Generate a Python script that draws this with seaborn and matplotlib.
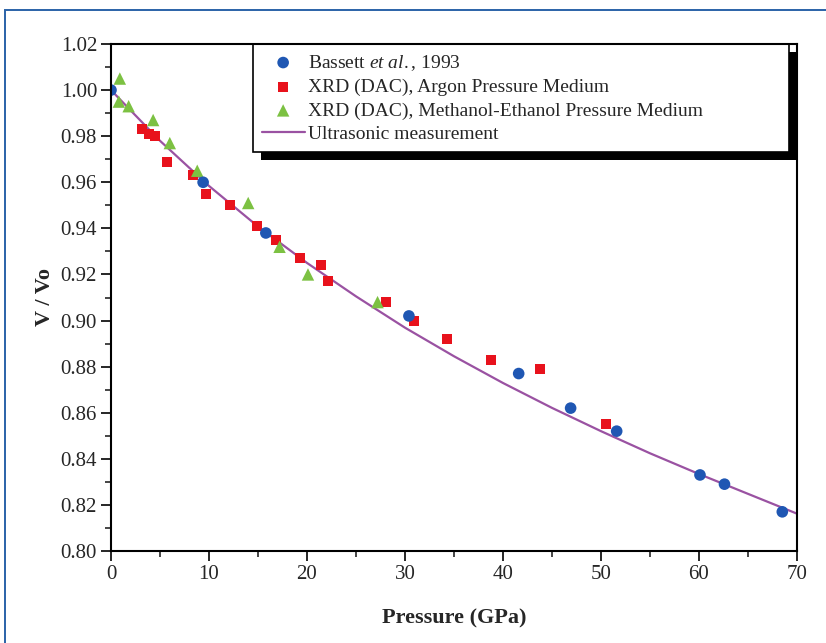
import matplotlib
matplotlib.use("Agg")
import numpy as np
import pandas as pd
import seaborn as sns
import matplotlib.pyplot as plt
from matplotlib.patches import Rectangle
from matplotlib.transforms import IdentityTransform
from matplotlib.ticker import MultipleLocator, FormatStrFormatter

# ---------------- data ----------------
bassett_p = [0.0, 9.4, 15.8, 30.4, 41.6, 46.9, 51.6, 60.1, 62.6, 68.5]
bassett_v = [1.000, 0.960, 0.938, 0.902, 0.877, 0.862, 0.852, 0.833, 0.829, 0.817]

argon_p = [3.2, 3.9, 4.5, 5.7, 8.4, 9.7, 12.1, 14.9, 16.8, 19.3, 21.4, 22.1,
           28.1, 30.9, 34.3, 38.8, 43.8, 50.5]
argon_v = [0.983, 0.981, 0.980, 0.969, 0.963, 0.955, 0.950, 0.941, 0.935, 0.927,
           0.924, 0.917, 0.908, 0.900, 0.892, 0.883, 0.879, 0.855]

meoh_p = [0.9, 0.8, 1.8, 4.3, 6.0, 8.8, 14.0, 17.2, 20.1, 27.2]
meoh_v = [1.005, 0.995, 0.993, 0.987, 0.977, 0.965, 0.951, 0.932, 0.920, 0.908]

ultra_p = [0, 5, 10, 15, 20, 25, 30, 35, 40, 45, 50, 55, 60, 65, 70]
ultra_v = [1.000, 0.978, 0.9584, 0.9408, 0.925, 0.9105, 0.8969, 0.8845, 0.8729,
           0.8621, 0.852, 0.8424, 0.8334, 0.8248, 0.8162]

labels = ["Bassett $\\mathit{et\\ al.}\\mathrm{,}$ 1993",
          "XRD (DAC), Argon Pressure Medium",
          "XRD (DAC), Methanol-Ethanol Pressure Medium",
          "Ultrasonic measurement"]
x_ticks = [0, 10, 20, 30, 40, 50, 60, 70]
y_ticks = [0.80, 0.82, 0.84, 0.86, 0.88, 0.90, 0.92, 0.94, 0.96, 0.98, 1.00, 1.02]

# ---------------- style ----------------
sns.set_style("ticks")
plt.rcParams["font.family"] = ["Liberation Serif", "DejaVu Serif"]
plt.rcParams["mathtext.fontset"] = "custom"
plt.rcParams["mathtext.rm"] = "Liberation Serif"
plt.rcParams["mathtext.it"] = "Liberation Serif:italic"

W, H = 826, 643
fig = plt.figure(figsize=(W / 100, H / 100), dpi=100)
fig.patch.set_facecolor("white")
# blue outer frame
fig.patches.append(Rectangle((5 / W, -0.05), 1.2, 1 - 10 / H + 0.05,
                             transform=fig.transFigure, fill=False,
                             edgecolor="#2a62a8", lw=1.4))

ax = fig.add_axes([111 / W, 1 - 551 / H, (797 - 111) / W, (551 - 44) / H])

df_b = pd.DataFrame({"p": bassett_p, "v": bassett_v})
df_a = pd.DataFrame({"p": argon_p, "v": argon_v})
df_m = pd.DataFrame({"p": meoh_p, "v": meoh_v})
df_u = pd.DataFrame({"p": ultra_p, "v": ultra_v})

sns.lineplot(data=df_u, x="p", y="v", ax=ax, color="#9a52a2", lw=1.6,
             label=labels[3], zorder=2)
sns.scatterplot(data=df_b, x="p", y="v", ax=ax, marker="o", s=70,
                color="#1f57b3", edgecolor="none", label=labels[0], zorder=4)
sns.scatterplot(data=df_a, x="p", y="v", ax=ax, marker="s", s=52,
                color="#e8121c", edgecolor="none", label=labels[1], zorder=3)
sns.scatterplot(data=df_m, x="p", y="v", ax=ax, marker="^", s=80,
                color="#7cc142", edgecolor="none", label=labels[2], zorder=3)

ax.set_xlim(0, 70)
ax.set_ylim(0.80, 1.02)
ax.set_xticks(x_ticks)
ax.set_yticks(y_ticks)
ax.xaxis.set_minor_locator(MultipleLocator(5))
ax.yaxis.set_minor_locator(MultipleLocator(0.01))
ax.yaxis.set_major_formatter(FormatStrFormatter("%.2f"))
ax.tick_params(which="major", direction="out", length=7, width=1.4,
               labelsize=15, pad=3, top=False, right=False)
ax.tick_params(which="minor", direction="out", length=4, width=1.2,
               top=False, right=False)
for s in ax.spines.values():
    s.set_visible(True)
    s.set_linewidth(1.5)
    s.set_color("black")
    s.set_zorder(12)

ax.set_xlabel("Pressure (GPa)", fontsize=16, fontweight="bold", labelpad=18)
ax.set_ylabel("V / Vo", fontsize=16, fontweight="bold", labelpad=4)

handles, labs = ax.get_legend_handles_labels()
order = [labs.index(l) for l in labels]
leg = ax.legend([handles[i] for i in order], [labs[i] for i in order],
                loc="upper left",
                bbox_to_anchor=((253 - 111) / 686, 0, (789 - 253) / 686, 1.0),
                mode="expand", borderaxespad=0, fontsize=14, frameon=True,
                fancybox=False, framealpha=1, edgecolor="black",
                handlelength=2.2, handletextpad=0.2, labelspacing=0.3,
                borderpad=0.45)
leg.get_frame().set_linewidth(1.2)
leg.set_zorder(10)

fig.canvas.draw()
bb = leg.get_window_extent()
shadow = Rectangle((bb.x0 + 8, bb.y0 - 8), bb.width, bb.height,
                   transform=IdentityTransform(), facecolor="black",
                   edgecolor="none", zorder=9, clip_on=False)
ax.add_artist(shadow)

fig.savefig("out.png", dpi=100)
